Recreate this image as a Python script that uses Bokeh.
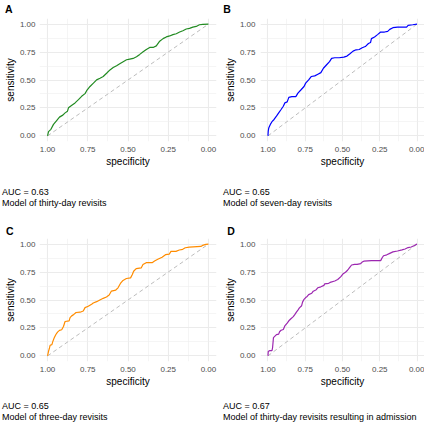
from bokeh.plotting import figure
from bokeh.models import Range1d, FixedTicker, NumeralTickFormatter, Title
from bokeh.layouts import row, column
from bokeh.embed import file_html
from bokeh.resources import INLINE

# ---------------- data ----------------
spec_thirty = [1.0, 0.994, 0.979, 0.963, 0.946, 0.926, 0.905, 0.891, 0.876, 0.870, 0.849, 0.829, 0.808,
               0.788, 0.767, 0.757, 0.736, 0.715, 0.695, 0.674, 0.654, 0.633, 0.612, 0.592, 0.571, 0.551,
               0.530, 0.509, 0.489, 0.468, 0.447, 0.427, 0.406, 0.386, 0.365, 0.344, 0.324, 0.303, 0.282,
               0.262, 0.241, 0.221, 0.200, 0.179, 0.159, 0.138, 0.118, 0.097, 0.076, 0.056, 0.035, 0.0]
sens_thirty = [0.0, 0.038, 0.059, 0.103, 0.133, 0.168, 0.186, 0.206, 0.221, 0.251, 0.274, 0.295, 0.324,
               0.354, 0.378, 0.404, 0.442, 0.472, 0.501, 0.516, 0.531, 0.560, 0.590, 0.611, 0.628, 0.646,
               0.664, 0.681, 0.687, 0.693, 0.708, 0.729, 0.752, 0.773, 0.791, 0.791, 0.805, 0.847, 0.870,
               0.885, 0.894, 0.906, 0.914, 0.929, 0.941, 0.956, 0.962, 0.973, 0.979, 0.994, 0.997, 1.0]

spec_seven = [1.0, 0.998, 0.994, 0.984, 0.973, 0.959, 0.943, 0.928, 0.912, 0.897, 0.887, 0.871, 0.860,
              0.840, 0.813, 0.799, 0.778, 0.758, 0.747, 0.727, 0.710, 0.686, 0.665, 0.645, 0.628, 0.608,
              0.587, 0.573, 0.552, 0.522, 0.491, 0.470, 0.450, 0.429, 0.409, 0.388, 0.368, 0.347, 0.326,
              0.312, 0.306, 0.285, 0.265, 0.244, 0.218, 0.197, 0.183, 0.162, 0.131, 0.070, 0.060, 0.029, 0.0]
sens_seven = [0.0, 0.044, 0.074, 0.103, 0.127, 0.147, 0.177, 0.206, 0.236, 0.265, 0.295, 0.304, 0.345,
              0.351, 0.351, 0.383, 0.413, 0.442, 0.472, 0.501, 0.531, 0.537, 0.552, 0.566, 0.605, 0.634,
              0.664, 0.693, 0.699, 0.699, 0.705, 0.714, 0.735, 0.758, 0.770, 0.773, 0.788, 0.799, 0.826,
              0.835, 0.870, 0.885, 0.906, 0.929, 0.929, 0.935, 0.953, 0.968, 0.973, 0.973, 0.988, 0.994, 1.0]

spec_three = [1.0, 0.994, 0.988, 0.984, 0.973, 0.967, 0.959, 0.949, 0.938, 0.926, 0.912, 0.901, 0.891,
              0.866, 0.860, 0.850, 0.840, 0.823, 0.798, 0.778, 0.767, 0.747, 0.726, 0.716, 0.695, 0.675,
              0.654, 0.634, 0.617, 0.603, 0.576, 0.562, 0.547, 0.531, 0.510, 0.484, 0.473, 0.465, 0.449,
              0.418, 0.407, 0.387, 0.350, 0.335, 0.315, 0.288, 0.267, 0.243, 0.233, 0.202, 0.181, 0.160,
              0.144, 0.119, 0.047, 0.037, 0.016, 0.0]
sens_three = [0.0, 0.041, 0.071, 0.095, 0.101, 0.130, 0.160, 0.189, 0.213, 0.228, 0.234, 0.263, 0.308,
              0.314, 0.343, 0.358, 0.367, 0.388, 0.391, 0.402, 0.432, 0.444, 0.462, 0.473, 0.485, 0.500,
              0.515, 0.527, 0.544, 0.580, 0.589, 0.609, 0.648, 0.675, 0.692, 0.698, 0.728, 0.757, 0.781,
              0.787, 0.817, 0.834, 0.834, 0.849, 0.864, 0.882, 0.905, 0.911, 0.935, 0.935, 0.947, 0.953,
              0.967, 0.973, 0.979, 0.988, 0.997, 1.0]

spec_admit = [1.0, 0.998, 0.990, 0.973, 0.969, 0.963, 0.953, 0.943, 0.928, 0.922, 0.912, 0.897, 0.887,
              0.871, 0.860, 0.846, 0.830, 0.819, 0.809, 0.799, 0.789, 0.774, 0.768, 0.758, 0.747, 0.737,
              0.727, 0.706, 0.696, 0.676, 0.665, 0.645, 0.624, 0.620, 0.593, 0.583, 0.552, 0.532, 0.511,
              0.495, 0.480, 0.466, 0.454, 0.439, 0.419, 0.402, 0.378, 0.368, 0.357, 0.306, 0.244, 0.234,
              0.224, 0.203, 0.183, 0.162, 0.131, 0.101, 0.080, 0.060, 0.039, 0.018, 0.008, 0.0]
sens_admit = [0.0, 0.039, 0.047, 0.047, 0.073, 0.164, 0.177, 0.190, 0.195, 0.216, 0.229, 0.236, 0.268,
              0.294, 0.314, 0.332, 0.351, 0.371, 0.392, 0.410, 0.429, 0.449, 0.481, 0.506, 0.522, 0.532,
              0.548, 0.561, 0.579, 0.592, 0.610, 0.618, 0.631, 0.644, 0.649, 0.657, 0.670, 0.683, 0.709,
              0.735, 0.748, 0.766, 0.787, 0.813, 0.818, 0.818, 0.826, 0.839, 0.847, 0.852, 0.852, 0.878,
              0.896, 0.904, 0.917, 0.930, 0.938, 0.948, 0.956, 0.969, 0.974, 0.987, 0.995, 1.0]

chance_spec = [1.0, 0.0]
chance_sens = [0.0, 1.0]

panel_letters = ["A", "B", "C", "D"]
auc_texts = ["AUC = 0.63", "AUC = 0.65", "AUC = 0.65", "AUC = 0.67"]
model_texts = ["Model of thirty-day revisits", "Model of seven-day revisits",
               "Model of three-day revisits", "Model of thirty-day revisits resulting in admission"]
curve_colors = ["#228B22", "#0000FF", "#FF8C00", "#9C27B0"]
tick_values = [0.0, 0.25, 0.5, 0.75, 1.0]
minor_tick_values = [0.125, 0.375, 0.625, 0.875]

X_START, X_END = 1.05, -0.05
Y_START, Y_END = -0.05, 1.05
FONT = "Liberation Sans"

# layout per panel: size, borders, standoffs, title offsets / alignment
geoms = [
    dict(w=220, h=216, l=39, r=4, t=17, b=75, yls=4, yas=1,
         loff=-34.6, ls=4, coff=-37.6, cs=12),
    dict(w=204, h=216, l=40, r=0, t=17, b=75, yls=5, yas=1,
         loff=-37.2, ls=4, coff=-37.5, cs=12),
    dict(w=220, h=208, l=39, r=4, t=22, b=63, yls=4, yas=1,
         loff=-33.6, ls=0, coff=-37.6, cs=0),
    dict(w=204, h=208, l=40, r=0, t=22, b=63, yls=5, yas=1,
         loff=-33.2, ls=0, coff=-37.5, cs=0),
]


def make_panel(spec, sens, color, letter, auc, model, g):
    p = figure(width=g["w"], height=g["h"], output_backend="svg", toolbar_location=None,
               title=None, x_range=Range1d(X_START, X_END), y_range=Range1d(Y_START, Y_END),
               min_border_left=g["l"], min_border_right=g["r"],
               min_border_top=g["t"], min_border_bottom=g["b"])
    p.outline_line_color = None
    p.background_fill_color = "white"
    p.border_fill_color = "white"

    for ax in (p.xaxis[0], p.yaxis[0]):
        ax.ticker = FixedTicker(ticks=tick_values, minor_ticks=minor_tick_values)
        ax.formatter = NumeralTickFormatter(format="0.00")
        ax.axis_line_color = None
        ax.major_tick_line_color = None
        ax.minor_tick_line_color = None
        ax.major_tick_out = 0
        ax.major_tick_in = 0
        ax.minor_tick_out = 0
        ax.minor_tick_in = 0
        ax.major_label_text_font = FONT
        ax.major_label_text_font_size = "8px"
        ax.major_label_text_color = "#4D4D4D"
        ax.axis_label_text_font = FONT
        ax.axis_label_text_font_size = "10px"
        ax.axis_label_text_font_style = "normal"
        ax.axis_label_text_color = "#000000"
    p.xaxis.axis_label = "specificity"
    p.yaxis.axis_label = "sensitivity"
    p.xaxis.major_label_standoff = 5
    p.xaxis.axis_label_standoff = 1
    p.yaxis.major_label_standoff = g["yls"]
    p.yaxis.axis_label_standoff = g["yas"]

    for gr in (p.xgrid[0], p.ygrid[0]):
        gr.grid_line_color = "#EBEBEB"
        gr.grid_line_width = 1.1
        gr.minor_grid_line_color = "#EFEFEF"
        gr.minor_grid_line_width = 0.6

    p.line(chance_spec, chance_sens, line_color="#BDBDBD", line_width=1, line_dash="4 3")
    p.line(spec, sens, line_color=color, line_width=1.2)

    p.add_layout(Title(text=letter, align="left", offset=g["loff"], standoff=g["ls"],
                       vertical_align="top", text_font=FONT, text_font_size="10.5px",
                       text_font_style="bold", text_color="#000000"), "above")
    p.add_layout(Title(text="\n" + auc + "\n" + model, align="left", offset=g["coff"],
                       standoff=g["cs"], vertical_align="top", text_font=FONT,
                       text_font_size="9px", text_font_style="normal", text_color="#000000",
                       text_line_height=1.11), "below")
    return p


series = [(spec_thirty, sens_thirty), (spec_seven, sens_seven),
          (spec_three, sens_three), (spec_admit, sens_admit)]
panels = [make_panel(s[0], s[1], curve_colors[i], panel_letters[i], auc_texts[i],
                     model_texts[i], geoms[i]) for i, s in enumerate(series)]

layout = column(row(panels[0], panels[1]), row(panels[2], panels[3]))

open("out.html", "w").write(file_html(layout, INLINE))
